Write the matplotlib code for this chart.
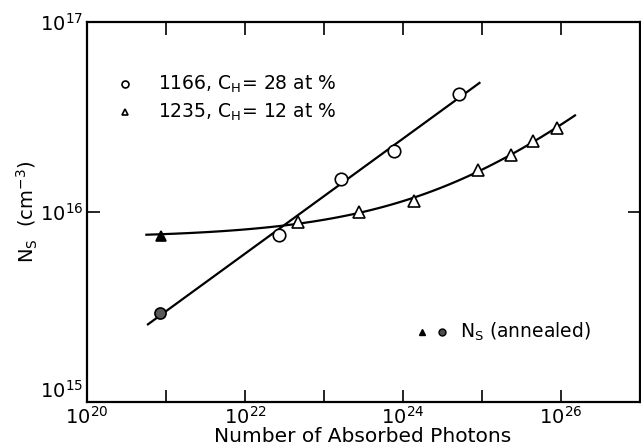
import numpy as np
import matplotlib.pyplot as plt

# sample 1166, C_H = 28 at %
photons_1166 = [8.4e20, 2.7e22, 1.65e23, 7.8e23, 5.2e24]
ns_1166 = [2.95e15, 7.6e15, 1.49e16, 2.1e16, 4.2e16]

# sample 1235, C_H = 12 at %
photons_1235 = [8.5e20, 4.7e22, 2.75e23, 1.4e24, 8.9e24, 2.35e25, 4.5e25, 8.9e25]
ns_1235 = [7.5e15, 8.9e15, 1.0e16, 1.14e16, 1.66e16, 2.0e16, 2.36e16, 2.77e16]

xticks = [1e20, 1e21, 1e22, 1e23, 1e24, 1e25, 1e26, 1e27]
xticklabels = ["$10^{20}$", "", "$10^{22}$", "", "$10^{24}$", "", "$10^{26}$", ""]
yticks = [1e15, 1e16, 1e17]
yticklabels = ["$10^{15}$", "$10^{16}$", "$10^{17}$"]

plt.rcParams['mathtext.fontset'] = 'dejavusans'

fig = plt.figure(figsize=(6.41, 4.48), dpi=100)
ax = fig.add_axes([0.136, 0.103, 0.862, 0.848])
ax.set_xscale('log')
ax.set_yscale('log')

# straight line fit (log-log) for 1166
lx = np.log10(photons_1166)
ly = np.log10(ns_1166)
p1 = np.polyfit(lx, ly, 1)
xf = np.linspace(20.77, 24.97, 50)
ax.plot(10 ** xf, 10 ** np.polyval(p1, xf), color='black', lw=1.6, zorder=2)

# fit Ns = a + b * x**k for 1235 (grid over k, least squares for a, b)
x2 = np.array(photons_1235)
y2 = np.array(ns_1235)
best = None
for k in np.linspace(0.05, 0.6, 111):
    A = np.column_stack([np.ones_like(x2), (x2 / 1e20) ** k])
    coef = np.linalg.lstsq(A, y2, rcond=None)[0]
    pred = A @ coef
    if np.all(pred > 0):
        err = np.sum((np.log10(pred) - np.log10(y2)) ** 2)
        if best is None or err < best[0]:
            best = (err, k, coef)
_, k, coef = best
xf2 = 10 ** np.linspace(20.75, 26.18, 80)
ax.plot(xf2, coef[0] + coef[1] * (xf2 / 1e20) ** k, color='black', lw=1.6, zorder=2)

# data points (first point of each series is annealed)
ax.plot(photons_1166[1:], ns_1166[1:], 'o', ms=9, mfc='white', mec='black', mew=1.2, zorder=3)
ax.plot(photons_1235[1:], ns_1235[1:], '^', ms=9, mfc='white', mec='black', mew=1.2, zorder=3)
ax.plot(photons_1166[:1], ns_1166[:1], 'o', ms=8, mfc='0.35', mec='black', mew=1.2, zorder=3)
ax.plot(photons_1235[:1], ns_1235[:1], '^', ms=7, mfc='black', mec='black', mew=1.2, zorder=3)

ax.set_xlim(1e20, 1e27)
ax.set_ylim(1e15, 1e17)
ax.set_xticks(xticks)
ax.set_xticklabels(xticklabels)
ax.set_yticks(yticks)
ax.set_yticklabels(yticklabels)
ax.minorticks_off()
ax.tick_params(direction='in', length=9, width=1.2, top=True, right=True, labelsize=14, pad=3)
for s in ax.spines.values():
    s.set_linewidth(1.6)
# lowest y label sits just above the corner, as in the original
ax.get_yticklabels()[0].set_va('bottom')

fig.text(0.566, 0.004, "Number of Absorbed Photons", fontsize=14.5, ha='center', va='bottom')
ax.set_ylabel(r"N$_\mathrm{S}$  (cm$^{-3}$)", fontsize=14, labelpad=0)

# legend drawn by hand
ax.plot([0.068], [0.836], 'o', ms=5, mfc='white', mec='black', mew=1.2, transform=ax.transAxes)
ax.plot([0.068], [0.762], '^', ms=5, mfc='white', mec='black', mew=1.2, transform=ax.transAxes)
ax.text(0.128, 0.836, r"1166, C$_\mathrm{H}$= 28 at %", fontsize=13.5, va='center', transform=ax.transAxes)
ax.text(0.128, 0.762, r"1235, C$_\mathrm{H}$= 12 at %", fontsize=13.5, va='center', transform=ax.transAxes)
ax.plot([0.606], [0.183], '^', ms=5, mfc='black', mec='black', transform=ax.transAxes)
ax.plot([0.643], [0.183], 'o', ms=5, mfc='0.3', mec='black', transform=ax.transAxes)
ax.text(0.675, 0.183, r"N$_\mathrm{S}$ (annealed)", fontsize=13.5, va='center', transform=ax.transAxes)

fig.savefig("out.png", dpi=100)
